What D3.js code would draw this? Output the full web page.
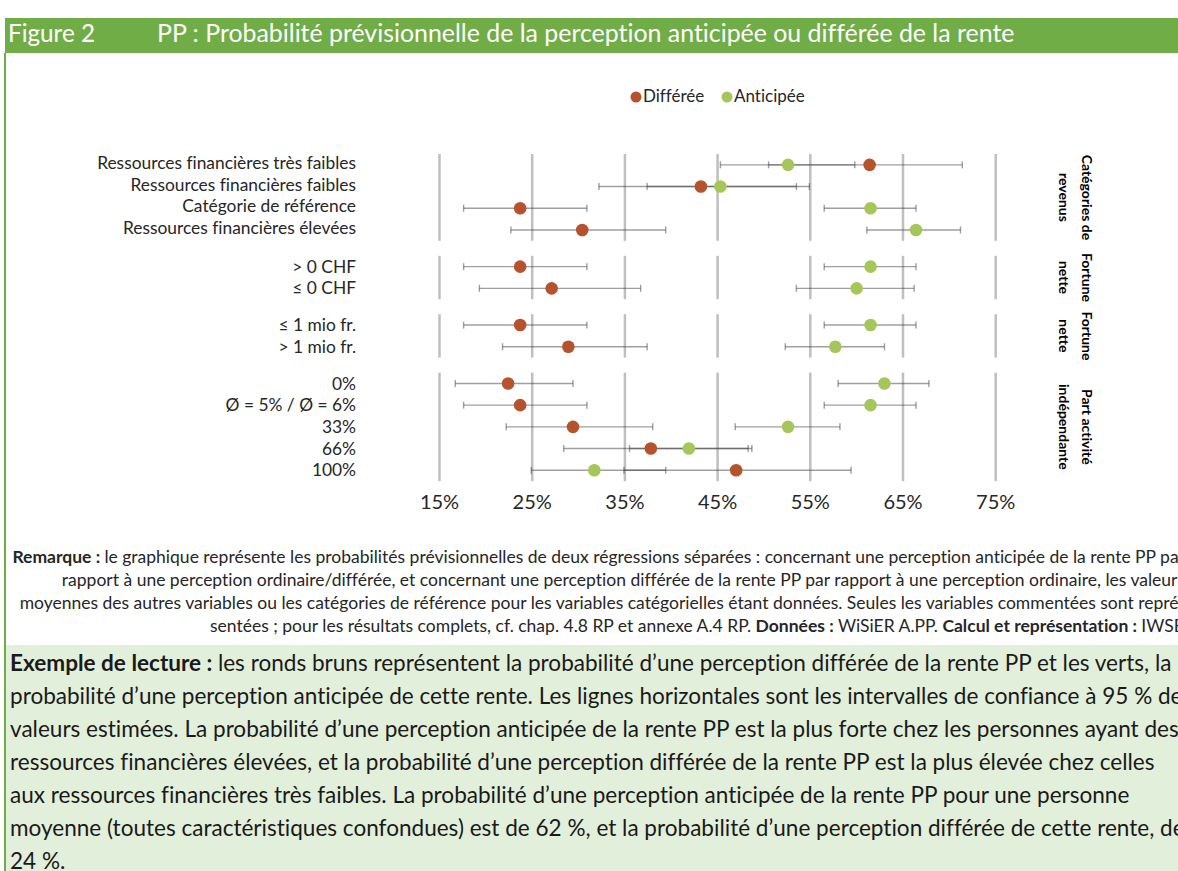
<!DOCTYPE html>
<html><head><meta charset="utf-8">
<script src="https://cdn.jsdelivr.net/npm/d3@7"></script>
<style>
body{margin:0;background:#fff}
svg{display:block}
text{font-family:Lato,"Open Sans",sans-serif;font-variant-ligatures:none}
</style>
</head><body>
<svg id="c" width="1178" height="871"></svg>
<script>
// ---------- data ----------
const groupLabels = [["Catégories de","revenus"],["Fortune","nette"],["Fortune","nette"],["Part activité","indépendante"]];
const categories = [
  ["Ressources financières très faibles","Ressources financières faibles","Catégorie de référence","Ressources financières élevées"],
  ["> 0 CHF","≤ 0 CHF"],
  ["≤ 1 mio fr.","> 1 mio fr."],
  ["0%","Ø = 5% / Ø = 6%","33%","66%","100%"]
];
const differee     = [[61.4,43.2,23.7,30.4],[23.7,27.1],[23.7,28.9],[22.4,23.7,29.4,37.8,47.0]];
const differeeLow  = [[50.5,32.2,17.6,22.7],[17.6,19.3],[17.6,21.8],[16.7,17.6,22.2,28.4,34.9]];
const differeeHigh = [[71.4,54.9,30.9,39.4],[30.9,36.7],[30.9,37.4],[29.4,30.9,38.0,48.7,59.4]];
const anticipee     = [[52.6,45.3,61.5,66.4],[61.5,60.0],[61.5,57.7],[63.0,61.5,52.6,41.9,31.7]];
const anticipeeLow  = [[45.3,37.4,56.5,61.1],[56.5,53.5],[56.5,52.3],[58.0,56.5,46.9,35.5,24.9]];
const anticipeeHigh = [[59.8,53.5,66.4,71.2],[66.4,66.2],[66.4,63.0],[67.8,66.4,58.2,48.3,39.4]];
const xTicks = [15,25,35,45,55,65,75];
const seriesNames = ["Différée","Anticipée"];

const titleNum = "Figure 2";
const titleText = "PP : Probabilité prévisionnelle de la perception anticipée ou différée de la rente";
const remarkLines = [
  [["Remarque : ",true],["le graphique représente les probabilités prévisionnelles de deux régressions séparées : concernant une perception anticipée de la rente PP par",false]],
  [["rapport à une perception ordinaire/différée, et concernant une perception différée de la rente PP par rapport à une perception ordinaire, les valeurs",false]],
  [["moyennes des autres variables ou les catégories de référence pour les variables catégorielles étant données. Seules les variables commentées sont repré-",false]],
  [["sentées ; pour les résultats complets, cf. chap. 4.8 RP et annexe A.4 RP. ",false],["Données : ",true],["WiSiER A.PP. ",false],["Calcul et représentation : ",true],["IWSB",false]]
];
const exampleLines = [
  [["Exemple de lecture : ",true],["les ronds bruns représentent la probabilité d’une perception différée de la rente PP et les verts, la",false]],
  [["probabilité d’une perception anticipée de cette rente. Les lignes horizontales sont les intervalles de confiance à 95 % des",false]],
  [["valeurs estimées. La probabilité d’une perception anticipée de la rente PP est la plus forte chez les personnes ayant des",false]],
  [["ressources financières élevées, et la probabilité d’une perception différée de la rente PP est la plus élevée chez celles",false]],
  [["aux ressources financières très faibles. La probabilité d’une perception anticipée de la rente PP pour une personne",false]],
  [["moyenne (toutes caractéristiques confondues) est de 62 %, et la probabilité d’une perception différée de cette rente, de",false]],
  [["24 %.",false]]
];

// ---------- styles ----------
const GREEN = "#70AD47", BROWN = "#B5532F", LGREEN = "#A6C65C";
const svg = d3.select("#c");

function fitSize(textSel, target, base){
  textSel.attr("font-size", base);
  const w = textSel.node().getComputedTextLength();
  return base * target / w;
}

// title band
svg.append("rect").attr("x",5).attr("y",18).attr("width",1173).attr("height",35).attr("fill",GREEN);
svg.append("rect").attr("x",4).attr("y",53).attr("width",2).attr("height",818).attr("fill",GREEN);
const t1 = svg.append("text").attr("x",8).attr("y",42).attr("fill","#fff").text(titleNum);
t1.attr("font-size", fitSize(t1, 87, 21));
const t2 = svg.append("text").attr("x",157).attr("y",42).attr("fill","#fff").text(titleText);
t2.attr("font-size", fitSize(t2, 858, 21));

// scales
const x = d3.scaleLinear().domain([15,75]).range([439.5,995.7]);
const rowH = 21.7, gap = 15, top0 = 154;
const panels = [];
let yy = top0;
categories.forEach((cats,i)=>{
  const h = cats.length*rowH;
  const band = d3.scaleBand().domain(cats).range([yy, yy+h]);
  panels.push({band, top:yy, bottom:yy+h});
  yy += h + gap;
});

const plot = svg.append("g");
// gridlines
panels.forEach(p=>{
  plot.selectAll(null).data(xTicks).enter().append("line")
    .attr("x1",d=>x(d)).attr("x2",d=>x(d)).attr("y1",p.top).attr("y2",p.bottom)
    .attr("stroke","#BFBFBF").attr("stroke-width",2.5);
});

// category labels
const labelG = svg.append("g").attr("font-size",14.5).attr("fill","#262626").attr("text-anchor","end");
categories.forEach((cats,i)=>{
  const b = panels[i].band;
  labelG.selectAll(null).data(cats).enter().append("text")
    .attr("x",356).attr("y",d=>b(d)+b.bandwidth()/2 - (i===0?2:0)).attr("dy","0.35em").text(d=>d);
});
const firstLab = labelG.select("text");
const labSize = fitSize(firstLab, 259, 14.5);
labelG.selectAll("text").attr("font-size", labSize);

// error bars & dots
const series = [
  {name:seriesNames[0], v:differee, lo:differeeLow, hi:differeeHigh, color:BROWN},
  {name:seriesNames[1], v:anticipee, lo:anticipeeLow, hi:anticipeeHigh, color:LGREEN}
];
const rows = [];
series.forEach((s,si)=>{
  categories.forEach((cats,gi)=>{
    cats.forEach((c,ci)=>{
      rows.push({si, color:s.color, v:s.v[gi][ci], lo:s.lo[gi][ci], hi:s.hi[gi][ci], y: panels[gi].band(c)+panels[gi].band.bandwidth()/2});
    });
  });
});
const eb = plot.append("g").attr("stroke","#404040").attr("stroke-opacity",0.5).attr("stroke-width",1.4);
eb.selectAll(null).data(rows).enter().append("line")
  .attr("x1",d=>x(d.lo)).attr("x2",d=>x(d.hi)).attr("y1",d=>d.y).attr("y2",d=>d.y);
eb.selectAll(null).data(rows).enter().append("line")
  .attr("x1",d=>x(d.lo)).attr("x2",d=>x(d.lo)).attr("y1",d=>d.y-3.5).attr("y2",d=>d.y+3.5);
eb.selectAll(null).data(rows).enter().append("line")
  .attr("x1",d=>x(d.hi)).attr("x2",d=>x(d.hi)).attr("y1",d=>d.y-3.5).attr("y2",d=>d.y+3.5);
plot.append("g").selectAll("circle").data(rows).enter().append("circle")
  .attr("cx",d=>x(d.v)).attr("cy",d=>d.y).attr("r",6.3).attr("fill",d=>d.color);

// x axis labels
svg.append("g").attr("font-size",20).attr("fill","#262626").attr("text-anchor","middle")
  .selectAll("text").data(xTicks).enter().append("text")
  .attr("x",d=>x(d)).attr("y",502).attr("dy","0.35em").text(d=>d+"%");

// group labels (rotated)
const gl = svg.append("g").attr("font-size",14).attr("font-weight","bold").attr("fill","#000").attr("text-anchor","middle");
groupLabels.forEach((lines,i)=>{
  const cy = (panels[i].top+panels[i].bottom)/2;
  lines.forEach((ln,li)=>{
    gl.append("text").attr("transform",`translate(${li===0?1087:1064},${cy}) rotate(90)`)
      .attr("dy","0.35em").text(ln);
  });
});

// legend
const leg = svg.append("g").attr("font-size",17).attr("fill","#262626");
const legX = [636, 727];
series.forEach((s,i)=>{
  leg.append("circle").attr("cx",legX[i]).attr("cy",97).attr("r",5.5).attr("fill",s.color);
  leg.append("text").attr("x",legX[i]+7).attr("y",96).attr("dy","0.35em").text(s.name);
});

// remark
const rem = svg.append("g").attr("fill","#262626").attr("text-anchor","end");
remarkLines.forEach((ln,i)=>{
  const t = rem.append("text").attr("x",1185).attr("y",557+i*23).attr("dy","0.35em");
  ln.forEach(([s,b])=>t.append("tspan").attr("font-weight",b?"bold":null).text(s));
});
const remSize = fitSize(rem.select("text"), 1173, 14);
rem.selectAll("text").attr("font-size", remSize);

// example box
svg.append("rect").attr("x",6).attr("y",645).attr("width",1172).attr("height",226).attr("fill","#E2EFDA");
const ex = svg.append("g").attr("fill","#1a1a1a");
exampleLines.forEach((ln,i)=>{
  const t = ex.append("text").attr("x",10).attr("y",663+i*33).attr("dy","0.35em");
  ln.forEach(([s,b])=>t.append("tspan").attr("font-weight",b?"bold":null).text(s));
});
const exSize = fitSize(ex.select("text"), 1162, 19);
ex.selectAll("text").attr("font-size", exSize);
</script>
</body></html>
